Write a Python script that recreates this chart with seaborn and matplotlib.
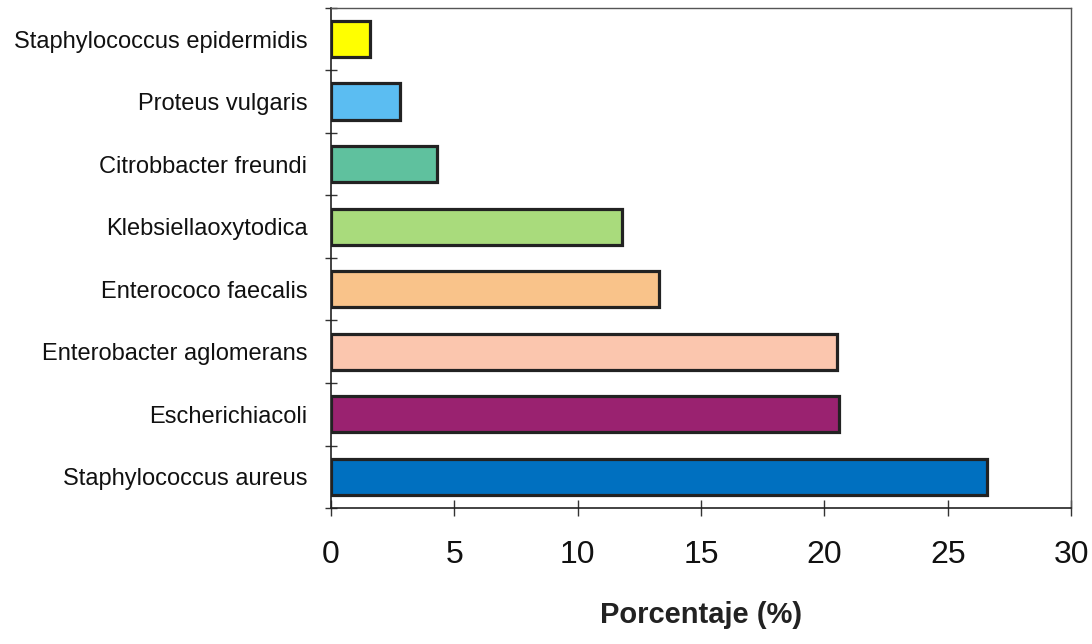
import matplotlib
matplotlib.use("Agg")
import matplotlib.pyplot as plt
import seaborn as sns
import numpy as np

# datos
bacterias = ["Staphylococcus epidermidis", "Proteus vulgaris", "Citrobbacter freundi",
             "Klebsiellaoxytodica", "Enterococo faecalis", "Enterobacter aglomerans",
             "Escherichiacoli", "Staphylococcus aureus"]
porcentaje = [1.6, 2.8, 4.3, 11.8, 13.3, 20.5, 20.6, 26.6]
colores = ["#FFFF00", "#5BBDF2", "#5FC19E", "#A9DB7C", "#F9C38A", "#FBC6AE", "#9A2270", "#0070C0"]
x_ticks = [0, 5, 10, 15, 20, 25, 30]

sns.set_style("white")
plt.rcParams['font.family'] = ['Liberation Sans', 'DejaVu Sans']

fig = plt.figure(figsize=(10.92, 6.44), dpi=100)
ax = fig.add_axes([0.303, 0.211, 0.678, 0.777])

sns.barplot(x=porcentaje, y=bacterias, hue=bacterias, palette=colores, legend=False,
            orient="h", width=0.58, saturation=1, edgecolor="#222222", linewidth=2.3, ax=ax)

ax.set_xlim(0, 30)
ax.set_ylim(7.5, -0.5)
ax.set_xticks(x_ticks)
ax.set_xticklabels([str(t) for t in x_ticks], fontsize=23, color="#111111")
ax.tick_params(axis="x", bottom=True, direction="inout", length=12, width=1, color="#333333", pad=17)
ax.tick_params(axis="y", which="major", left=False, length=0, labelsize=17, labelcolor="#111111", pad=17)
ax.set_yticks(np.arange(-0.5, 8, 1), minor=True)
ax.tick_params(axis="y", which="minor", left=True, direction="inout", length=8, width=1, color="#333333")
ax.set_xlabel("Porcentaje (%)", fontsize=21, fontweight="bold", labelpad=22, color="#222222")
ax.set_ylabel("")

for s in ["left", "bottom"]:
    ax.spines[s].set_color("#222222")
    ax.spines[s].set_linewidth(1.2)
for s in ["top", "right"]:
    ax.spines[s].set_color("#555555")
    ax.spines[s].set_linewidth(1.0)

plt.savefig("out.png", dpi=100)
